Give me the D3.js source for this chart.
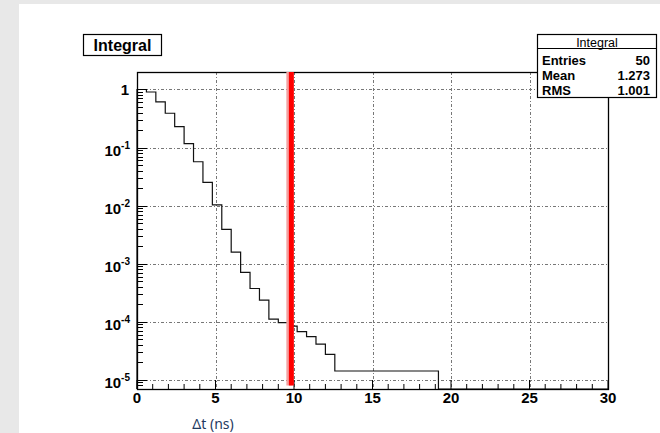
<!DOCTYPE html>
<html>
<head>
<meta charset="utf-8">
<script src="https://cdn.jsdelivr.net/npm/d3@7"></script>
<style>
  html, body { margin: 0; padding: 0; background: #e8e8e8; }
  svg { display: block; }
</style>
</head>
<body>
<svg id="chart" width="660" height="433"></svg>
<script>
// bin edges are every 0.6 ns, 50 bins from 0 to 30
const binWidth = 0.6;
const binValues = [
  1.0, 0.905, 0.61, 0.39, 0.229, 0.117, 0.057, 0.0252, 0.0103, 0.0039,
  0.00158, 0.00071, 0.000374, 0.000235, 0.000111, 0.0000964, 0.0000838, 0.0000674, 0.0000553, 0.0000411,
  0.0000275, 0.0000142, 0.0000142, 0.0000142, 0.0000142, 0.0000142, 0.0000142, 0.0000142, 0.0000142, 0.0000142,
  0.0000142, 0.0000142, 0, 0, 0, 0, 0, 0, 0, 0,
  0, 0, 0, 0, 0, 0, 0, 0, 0, 0
];
const xTicks = [0, 5, 10, 15, 20, 25, 30];
const yDecades = [0, -1, -2, -3, -4, -5];
const cutValue = 9.8;
const statsRows = [["Entries", "50"], ["Mean", "1.273"], ["RMS", "1.001"]];
const histName = "Integral";
const xTitle = "Δt (ns)";

const svg = d3.select("#chart");

// page background: white sheet with grey border top/left
svg.append("rect").attr("x", 0).attr("y", 0).attr("width", 660).attr("height", 433).attr("fill", "#e8e8e8");
svg.append("rect").attr("x", 19).attr("y", 4).attr("width", 641).attr("height", 429).attr("fill", "#ffffff");

const frame = { left: 137, right: 608, top: 72, bottom: 389 };

const x = d3.scaleLinear().domain([0, 30]).range([frame.left, frame.right]);
const y = d3.scaleLog().domain([6.95e-6, 2.0]).range([frame.bottom, frame.top]);

// grid
const grid = svg.append("g").attr("stroke", "#777").attr("stroke-width", 1)
  .attr("stroke-dasharray", "3,2,1,2");
grid.selectAll("line.gx")
  .data(xTicks.filter(d => d > 0 && d < 30))
  .enter().append("line")
  .attr("x1", d => Math.round(x(d)) + 0.5).attr("x2", d => Math.round(x(d)) + 0.5)
  .attr("y1", frame.top).attr("y2", frame.bottom);
grid.selectAll("line.gy")
  .data(yDecades)
  .enter().append("line")
  .attr("y1", d => Math.round(y(Math.pow(10, d))) + 0.5).attr("y2", d => Math.round(y(Math.pow(10, d))) + 0.5)
  .attr("x1", frame.left).attr("x2", frame.right);

// histogram step line
const pts = [];
const floorV = y.domain()[0];
pts.push([x(0), y(floorV)]);
binValues.forEach((v, i) => {
  const val = v > 0 ? v : floorV;
  pts.push([x(i * binWidth), y(val)]);
  pts.push([x((i + 1) * binWidth), y(val)]);
});
svg.append("path")
  .attr("d", d3.line()(pts))
  .attr("fill", "none")
  .attr("stroke", "#111")
  .attr("stroke-width", 1.2);

// frame
svg.append("rect")
  .attr("x", frame.left + 0.5).attr("y", frame.top + 0.5)
  .attr("width", frame.right - frame.left).attr("height", frame.bottom - frame.top)
  .attr("fill", "none").attr("stroke", "#000").attr("stroke-width", 1.3);

// x ticks
const xMinor = d3.range(0, 31, 1);
svg.append("g").selectAll("line")
  .data(xMinor)
  .enter().append("line")
  .attr("x1", d => x(d)).attr("x2", d => x(d))
  .attr("y1", frame.bottom).attr("y2", d => frame.bottom - (d % 5 === 0 ? 9 : 5))
  .attr("stroke", "#000").attr("stroke-width", 1);

svg.append("g").selectAll("text")
  .data(xTicks)
  .enter().append("text")
  .attr("x", d => x(d)).attr("y", 403)
  .attr("text-anchor", "middle")
  .attr("font-family", "Liberation Sans, Arial, sans-serif")
  .attr("font-weight", "bold")
  .attr("font-size", 15)
  .text(d => d);

// y ticks (log)
const yMinor = [];
yDecades.concat([-6]).forEach(e => {
  for (let k = 1; k <= 9; k++) {
    const v = k * Math.pow(10, e);
    if (v >= y.domain()[0] && v <= y.domain()[1]) yMinor.push({ v: v, major: k === 1 });
  }
});
svg.append("g").selectAll("line")
  .data(yMinor)
  .enter().append("line")
  .attr("x1", frame.left).attr("x2", d => frame.left + (d.major ? 10 : 6))
  .attr("y1", d => Math.round(y(d.v)) + 0.5).attr("y2", d => Math.round(y(d.v)) + 0.5)
  .attr("stroke", "#000").attr("stroke-width", 1);

const yLab = svg.append("g")
  .attr("font-family", "Liberation Sans, Arial, sans-serif")
  .attr("font-weight", "bold");
yDecades.forEach(e => {
  const yy = y(Math.pow(10, e));
  if (e === 0) {
    yLab.append("text").attr("x", 129).attr("y", yy + 6).attr("text-anchor", "end")
      .attr("font-size", 15).text("1");
  } else {
    const t = yLab.append("text").attr("x", 130).attr("y", yy + 8).attr("text-anchor", "end")
      .attr("font-size", 15);
    t.append("tspan").text("10");
    t.append("tspan").attr("font-size", 10).attr("dy", -7).text(String(e));
  }
});

// red cut line
svg.append("line")
  .attr("x1", x(cutValue) - 1.5).attr("x2", x(cutValue) - 1.5)
  .attr("y1", frame.top).attr("y2", y(8e-6))
  .attr("stroke", "#f4a0a0").attr("stroke-width", 6);
svg.append("line")
  .attr("x1", x(cutValue) + 0.5).attr("x2", x(cutValue) + 0.5)
  .attr("y1", frame.top).attr("y2", y(8e-6))
  .attr("stroke", "#ff0000").attr("stroke-width", 5);

// title box
svg.append("rect").attr("x", 83.5).attr("y", 34.5).attr("width", 78).attr("height", 21)
  .attr("fill", "#fff").attr("stroke", "#000").attr("stroke-width", 1.2);
svg.append("text").attr("x", 122.5).attr("y", 51)
  .attr("text-anchor", "middle")
  .attr("font-family", "Liberation Sans, Arial, sans-serif")
  .attr("font-weight", "bold").attr("font-size", 16)
  .text(histName);

// stats box
const sx = 537.5, sw = 119, sy = 34.5, sh = 63;
svg.append("rect").attr("x", sx).attr("y", sy).attr("width", sw).attr("height", sh)
  .attr("fill", "#fff").attr("stroke", "#000").attr("stroke-width", 1.2);
svg.append("line").attr("x1", sx).attr("x2", sx + sw).attr("y1", 48.5).attr("y2", 48.5)
  .attr("stroke", "#000").attr("stroke-width", 1);
svg.append("text").attr("x", sx + sw / 2).attr("y", 46.5)
  .attr("text-anchor", "middle")
  .attr("font-family", "Liberation Sans, Arial, sans-serif")
  .attr("font-size", 12.5)
  .text(histName);
const statBase = [64.5, 79.5, 95];
statsRows.forEach((r, i) => {
  svg.append("text").attr("x", 542).attr("y", statBase[i])
    .attr("font-family", "Liberation Sans, Arial, sans-serif")
    .attr("font-weight", "bold").attr("font-size", 13).text(r[0]);
  svg.append("text").attr("x", 650).attr("y", statBase[i]).attr("text-anchor", "end")
    .attr("font-family", "Liberation Sans, Arial, sans-serif")
    .attr("font-weight", "bold").attr("font-size", 13).text(r[1]);
});

// x axis title
svg.append("text").attr("x", 213).attr("y", 429)
  .attr("text-anchor", "middle")
  .attr("font-family", "Noto Sans, Open Sans, sans-serif")
  .attr("font-size", 14)
  .attr("fill", "#1f3a5f")
  .text(xTitle);
</script>
</body>
</html>
